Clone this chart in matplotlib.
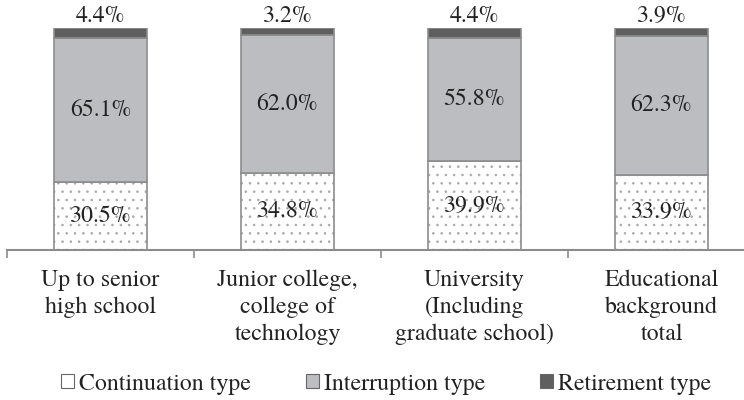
import numpy as np
import matplotlib
matplotlib.use('Agg')
import matplotlib.pyplot as plt
from matplotlib.patches import Patch

plt.rcParams['font.family'] = ['TeX Gyre Termes', 'STIXGeneral', 'DejaVu Serif']

categories = ['Up to senior\nhigh school',
              'Junior college,\ncollege of\ntechnology',
              'University\n(Including\ngraduate school)',
              'Educational\nbackground\ntotal']
continuation = [30.5, 34.8, 39.9, 33.9]
interruption = [65.1, 62.0, 55.8, 62.3]
retirement = [4.4, 3.2, 4.4, 3.9]
series_names = ['Continuation type', 'Interruption type', 'Retirement type']

edge = '#8c8c8c'
c_int = '#bcbdc0'
c_ret = '#5f5f5f'
fs = 17.2

fig = plt.figure(figsize=[7.44, 4.0], dpi=100)
ax = fig.add_axes([7 / 744, 150 / 400, 748 / 744, 222 / 400])

x = np.arange(len(categories))
w = 0.5
cont = np.array(continuation)
inter = np.array(interruption)
ret = np.array(retirement)

plt.rcParams['hatch.linewidth'] = 0.6
# dotted fill first, outline drawn over it
ax.bar(x, cont, w, color='white', edgecolor='#a8a8a8', hatch='..', linewidth=0)
ax.bar(x, cont, w, color='none', edgecolor=edge, linewidth=1.2)
ax.bar(x, inter, w, bottom=cont, color=c_int, edgecolor=edge, linewidth=1.2)
ax.bar(x, ret, w, bottom=cont + inter, color=c_ret, edgecolor=edge, linewidth=1.2)

for i in range(len(x)):
    ax.text(x[i], cont[i] / 2, '%.1f%%' % cont[i], ha='center', va='center', fontsize=fs, color='#222222')
    ax.text(x[i], cont[i] + inter[i] / 2, '%.1f%%' % inter[i], ha='center', va='center', fontsize=fs, color='#222222')
    ax.text(x[i], cont[i] + inter[i] + ret[i] + 0.3, '%.1f%%' % ret[i], ha='center', va='bottom', fontsize=fs, color='#222222')

ax.set_xlim(-0.5, 3.5)
ax.set_ylim(0, 100)
for s in ['top', 'right', 'left']:
    ax.spines[s].set_visible(False)
ax.spines['bottom'].set_color(edge)
ax.spines['bottom'].set_linewidth(1.5)
ax.set_yticks([])
ax.set_xticks(np.arange(-0.5, 4.0, 1.0))
ax.set_xticklabels([])
ax.tick_params(axis='x', which='major', direction='out', length=6, width=1.2, color=edge)
ax.set_xticks(x, minor=True)
ax.set_xticklabels(categories, minor=True, fontsize=fs, color='#222222', linespacing=1.35)
ax.tick_params(axis='x', which='minor', length=0, pad=14)

handles = [Patch(facecolor='white', edgecolor='#666666', linewidth=0.8),
           Patch(facecolor=c_int, edgecolor='#666666', linewidth=0.8),
           Patch(facecolor=c_ret, edgecolor='#666666', linewidth=0.8)]
leg = fig.legend(handles, series_names, loc='center', bbox_to_anchor=(386 / 744, 1 - 384 / 400),
                 ncol=3, frameon=False, fontsize=fs, handlelength=0.55, handleheight=0.55,
                 handletextpad=0.2, columnspacing=2.3)
for t in leg.get_texts():
    t.set_color('#222222')

plt.savefig('out.png', dpi=100)
